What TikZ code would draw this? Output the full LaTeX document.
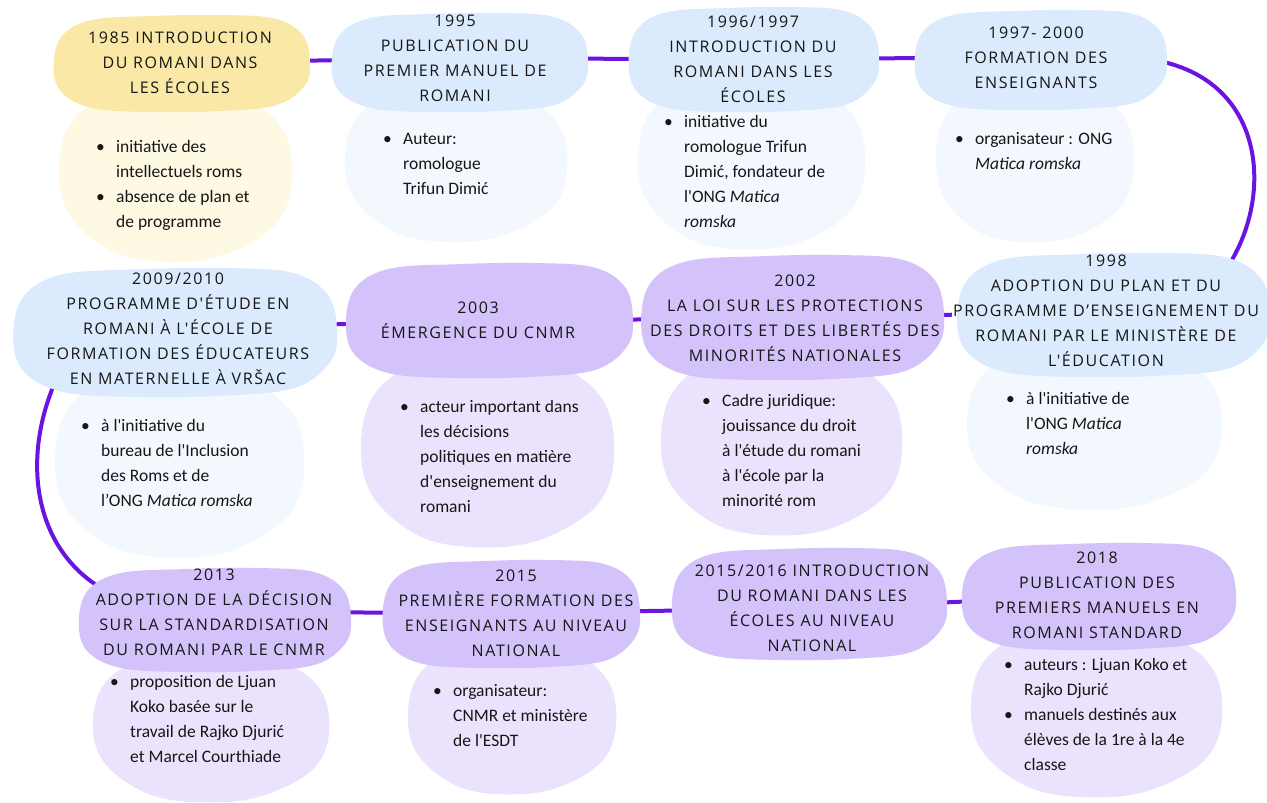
\documentclass[tikz,border=0pt]{standalone}
\usepackage{fontspec}
\newfontfamily\hdfont{Open Sans}[LetterSpace=10,Ligatures=TeXOff]
\newfontfamily\bdfont{Carlito}[Ligatures=TeXOff]
\usetikzlibrary{calc}
\pgfdeclarelayer{paper}\pgfdeclarelayer{bg}\pgfdeclarelayer{bodyl}\pgfdeclarelayer{headl}
\pgfsetlayers{paper,bg,bodyl,headl,main}
\definecolor{yelH}{HTML}{FAE8A7}
\definecolor{yelB}{HTML}{FEF9E3}
\definecolor{bluH}{HTML}{DBEAFC}
\definecolor{bluB}{HTML}{F3F8FE}
\definecolor{purH}{HTML}{D3C3FA}
\definecolor{purB}{HTML}{EBE3FD}
\definecolor{connc}{HTML}{6B14E1}
\definecolor{txt}{HTML}{161616}
\newcommand\hblob[5]{\begin{pgfonlayer}{headl}\begin{scope}[shift={(#1,#2)},xscale=#3/2,yscale=#4/2]
\fill[#5] plot[smooth cycle,tension=0.6] coordinates {(-0.98,0.1) (-0.92,-0.55) (-0.68,-0.9) (-0.2,-0.98) (0.3,-1) (0.72,-0.93) (0.94,-0.6) (1,-0.05) (0.96,0.45) (0.74,0.86) (0.3,0.98) (-0.2,1) (-0.66,0.93) (-0.91,0.62)};
\end{scope}\end{pgfonlayer}}
\newcommand\bblob[5]{\begin{pgfonlayer}{bodyl}\begin{scope}[shift={(#1,#2)},xscale=#3/2,yscale=#4/2]
\fill[#5] plot[smooth cycle,tension=0.6] coordinates {(-1,0) (-0.92,-0.6) (-0.6,-0.95) (0,-1) (0.6,-0.93) (0.93,-0.55) (1,0.05) (0.86,0.55) (0.45,0.9) (0,1) (-0.5,0.9) (-0.88,0.5)};
\end{scope}\end{pgfonlayer}}
\newcommand\bl{\makebox[20pt][l]{•}}
\newcommand\ind{\hspace*{20pt}}
\tikzset{
  hd/.style={font=\hdfont\fontsize{16}{25}\selectfont, align=center, text=txt, inner sep=1pt},
  bd/.style={font=\bdfont\fontsize{17.5}{25}\selectfont, align=left, text=txt, inner sep=0pt, anchor=north west},
  conn/.style={line width=4pt, draw=connc}
}
\begin{document}
\begin{tikzpicture}[x=1pt,y=-1pt]
\begin{pgfonlayer}{paper}
\fill[white] (0,0) rectangle (1267,803);
\end{pgfonlayer}
\useasboundingbox (0,0) rectangle (1267,803);
% header blobs
\hblob{180.5}{63.5}{259}{97}{yelH}
\hblob{458.5}{62.5}{259}{99}{bluH}
\hblob{752.5}{59.5}{253}{105}{bluH}
\hblob{1039.5}{60}{255}{100}{bluH}
\hblob{1112}{315}{316}{124}{bluH}
\hblob{791}{317.5}{306}{125}{purH}
\hblob{488}{320.5}{290}{115}{purH}
\hblob{173.5}{332.5}{327}{129}{bluH}
\hblob{213.5}{620}{275}{104}{purH}
\hblob{510}{614}{260}{108}{purH}
\hblob{808}{604}{278}{112}{purH}
\hblob{1097.5}{596.5}{277}{107}{purH}
% body blobs
\bblob{175.5}{178}{233}{168}{yelB}
\bblob{456}{167}{222}{150}{bluB}
\bblob{751.5}{167}{227}{165}{bluB}
\bblob{1035}{165}{198}{155}{bluB}
\bblob{1094.5}{430}{255}{160}{bluB}
\bblob{781.5}{448}{241}{175}{purB}
\bblob{487.5}{455}{253}{185}{purB}
\bblob{179.5}{468}{249}{180}{bluB}
\bblob{211}{730}{236}{145}{purB}
\bblob{512}{722}{208}{145}{purB}
\bblob{1096.5}{715}{251}{165}{purB}
% headers
\node[hd] (h1) at (180,62.5) {1985 INTRODUCTION\\DU ROMANI DANS\\LES ÉCOLES};
\node[hd] (h2) at (455,58.5) {1995\\PUBLICATION DU\\PREMIER MANUEL DE\\ROMANI};
\node[hd] (h3) at (753,59) {1996/1997\\INTRODUCTION DU\\ROMANI DANS LES\\ÉCOLES};
\node[hd] (h4) at (1036,57.5) {1997- 2000\\FORMATION DES\\ENSEIGNANTS};
\node[hd] (h5) at (1106,311) {1998\\ADOPTION DU PLAN ET DU\\PROGRAMME D’ENSEIGNEMENT DU\\ROMANI PAR LE MINISTÈRE DE\\L'ÉDUCATION};
\node[hd] (h6) at (795,318.5) {2002\\LA LOI SUR LES PROTECTIONS\\DES DROITS ET DES LIBERTÉS DES\\MINORITÉS NATIONALES};
\node[hd] (h7) at (478,320.5) {2003\\ÉMERGENCE DU CNMR};
\node[hd] (h8) at (178,328.5) {2009/2010\\PROGRAMME D'ÉTUDE EN\\ROMANI À L'ÉCOLE DE\\FORMATION DES ÉDUCATEURS\\EN MATERNELLE À VRŠAC};
\node[hd] (h9) at (214,612) {2013\\ADOPTION DE LA DÉCISION\\SUR LA STANDARDISATION\\DU ROMANI PAR LE CNMR};
\node[hd] (h10) at (516,613) {2015\\PREMIÈRE FORMATION DES\\ENSEIGNANTS AU NIVEAU\\NATIONAL};
\node[hd] (h11) at (812,608.5) {2015/2016 INTRODUCTION\\DU ROMANI DANS LES\\ÉCOLES AU NIVEAU\\NATIONAL};
\node[hd] (h12) at (1097,595.5) {2018\\PUBLICATION DES\\PREMIERS MANUELS EN\\ROMANI STANDARD};
% bodies
\node[bd] (d1) at (96,134.6) {\strut\bl initiative des\\\ind intellectuels roms\\\bl absence de plan et\\\ind de programme};
\node[bd] (d2) at (383,126.6) {\strut\bl Auteur:\\\ind romologue\\\ind Trifun Dimić};
\node[bd] (d3) at (664,109.6) {\strut\bl initiative du\\\ind romologue Trifun\\\ind Dimić, fondateur de\\\ind l'ONG \textit{Matica}\\\ind \textit{romska}};
\node[bd] (d4) at (955,126.6) {\strut\bl organisateur : ONG\\\ind \textit{Matica romska}};
\node[bd] (d5) at (1006,386.6) {\strut\bl à l'initiative de\\\ind l'ONG \textit{Matica}\\\ind \textit{romska}};
\node[bd] (d6) at (702,388.6) {\strut\bl Cadre juridique:\\\ind jouissance du droit\\\ind à l'étude du romani\\\ind à l'école par la\\\ind minorité rom};
\node[bd] (d7) at (400,394.6) {\strut\bl acteur important dans\\\ind les décisions\\\ind politiques en matière\\\ind d'enseignement du\\\ind romani};
\node[bd] (d8) at (81,413.6) {\strut\bl à l'initiative du\\\ind bureau de l'Inclusion\\\ind des Roms et de\\\ind l’ONG \textit{Matica romska}};
\node[bd] (d9) at (110,669.6) {\strut\bl proposition de Ljuan\\\ind Koko basée sur le\\\ind travail de Rajko Djurić\\\ind et Marcel Courthiade};
\node[bd] (d10) at (433,678.6) {\strut\bl organisateur:\\\ind CNMR et ministère\\\ind de l'ESDT};
\node[bd] (d12) at (1004,652.6) {\strut\bl auteurs : Ljuan Koko et\\\ind Rajko Djurić\\\bl manuels destinés aux\\\ind élèves de la 1re à la 4e\\\ind classe};
% connectors
\begin{pgfonlayer}{bg}
\draw[conn] (h1) -- (h2);
\draw[conn] (h2) -- (h3);
\draw[conn] (h3) -- (h4);
\draw[conn] (h4.east) .. controls (1278,50) and (1282,215) .. ($(h5.north east)+(-50,35)$);
\draw[conn] (h5) -- (h6);
\draw[conn] (h6) -- (h7);
\draw[conn] (h7) -- (h8);
\draw[conn] ($(h8.west)+(33,12)$) .. controls (15,430) and (20,560) .. ($(h9.west)+(31,-12)$);
\draw[conn] (h9) -- (h10);
\draw[conn] (h10) -- (h11);
\draw[conn] (h11) -- (h12);
\end{pgfonlayer}
\end{tikzpicture}
\end{document}
